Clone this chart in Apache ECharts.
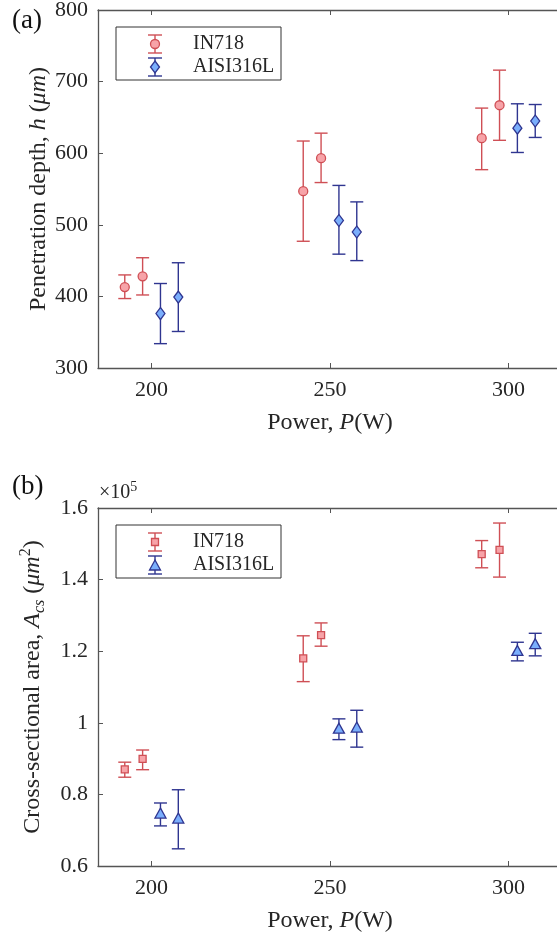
<!DOCTYPE html>
<html>
<head>
<meta charset="utf-8">
<script src="https://cdn.jsdelivr.net/npm/echarts@6/dist/echarts.min.js"></script>
<style>
  html, body { margin: 0; padding: 0; background: #fff; }
  #chart { width: 557px; height: 934px; }
</style>
</head>
<body>
<div id="chart"></div>
<script>
// tick positions
const xTicks = [200, 250, 300]
const depthTicks = [300, 400, 500, 600, 700, 800]
const areaTicks = [0.6, 0.8, 1, 1.2, 1.4, 1.6]

// x positions (W), the two alloys sit either side of each power
const in718X = [192.5, 197.5, 242.5, 247.5, 292.5, 297.5]
const aisiX = [202.5, 207.5, 252.5, 257.5, 302.5, 307.5]

// (a) penetration depth, um
const in718Depth = [413, 428, 547, 593, 621, 667]
const in718DepthLow = [397, 402, 477, 559, 577, 618]
const in718DepthHigh = [430, 454, 617, 628, 663, 716]
const aisiDepth = [376, 399, 506, 490, 635, 645]
const aisiDepthLow = [334, 351, 459, 450, 601, 622]
const aisiDepthHigh = [418, 447, 555, 532, 669, 668]

// (b) cross-sectional area, x1e5 um^2
const in718Area = [0.870, 0.899, 1.180, 1.245, 1.471, 1.483]
const in718AreaLow = [0.848, 0.869, 1.115, 1.214, 1.433, 1.407]
const in718AreaHigh = [0.890, 0.924, 1.243, 1.279, 1.509, 1.558]
const aisiArea = [0.748, 0.734, 0.985, 0.988, 1.202, 1.221]
const aisiAreaLow = [0.712, 0.648, 0.953, 0.932, 1.173, 1.187]
const aisiAreaHigh = [0.776, 0.813, 1.011, 1.035, 1.225, 1.250]

const FONT = "'Liberation Serif', 'Times New Roman', serif"
const TEXT = '#262626'
const AXIS = '#555555'
const RED_LINE = '#cf4f55'
const RED_FILL = '#f7a3a8'
const BLUE_LINE = '#2f3590'
const BLUE_FILL = '#7aaefc'

var chart = echarts.init(document.getElementById('chart'))

const pairs = (xs, ys) => xs.map((x, i) => [x, ys[i]])
const bars = (xs, lo, hi) => xs.map((x, i) => [x, lo[i], hi[i]])

const tickLabel = (v) => String(parseFloat(Number(v).toFixed(2)))

const titleRich = {
  i: { fontStyle: 'italic', fontFamily: FONT, fontSize: 24, color: TEXT, lineHeight: 30 },
  sub: { fontStyle: 'italic', fontFamily: FONT, fontSize: 16, color: TEXT, lineHeight: 16, verticalAlign: 'bottom' },
  sup: { fontFamily: FONT, fontSize: 16, color: TEXT, lineHeight: 16, verticalAlign: 'top' }
}
const titleStyle = { fontFamily: FONT, fontSize: 24, color: TEXT, lineHeight: 30, rich: titleRich }

function xAxisPair(gi) {
  return [
    {
      type: 'value', gridIndex: gi, min: 185, max: 315, position: 'bottom',
      axisLine: { show: true, onZero: false, lineStyle: { color: AXIS, width: 1.3 } },
      axisTick: { show: true, inside: true, length: 5, customValues: xTicks, lineStyle: { color: AXIS } },
      axisLabel: { customValues: xTicks, color: TEXT, fontFamily: FONT, fontSize: 22, margin: 11 },
      splitLine: { show: false },
      name: 'Power, {i|P}(W)', nameLocation: 'middle', nameGap: 40, nameTextStyle: titleStyle
    },
    {
      type: 'value', gridIndex: gi, min: 185, max: 315, position: 'top',
      axisLine: { show: true, onZero: false, lineStyle: { color: AXIS, width: 1.3 } },
      axisTick: { show: true, inside: true, length: 5, customValues: xTicks, lineStyle: { color: AXIS } },
      axisLabel: { show: false },
      splitLine: { show: false }
    }
  ]
}

function yAxisPair(gi, min, max, ticks, name, gap) {
  return [
    {
      type: 'value', gridIndex: gi, min: min, max: max, position: 'left',
      axisLine: { show: true, onZero: false, lineStyle: { color: AXIS, width: 1.3 } },
      axisTick: { show: true, inside: true, length: 5, customValues: ticks, lineStyle: { color: AXIS } },
      axisLabel: { customValues: ticks, formatter: tickLabel, color: TEXT, fontFamily: FONT, fontSize: 22, margin: 10 },
      splitLine: { show: false },
      name: name, nameLocation: 'middle', nameRotate: 90, nameGap: gap, nameMoveOverlap: false,
      nameTextStyle: titleStyle
    },
    {
      type: 'value', gridIndex: gi, min: min, max: max, position: 'right',
      axisLine: { show: true, onZero: false, lineStyle: { color: AXIS, width: 1.3 } },
      axisTick: { show: true, inside: true, length: 5, customValues: ticks, lineStyle: { color: AXIS } },
      axisLabel: { show: false },
      splitLine: { show: false }
    }
  ]
}

function errRender(color) {
  return function (params, api) {
    const lo = api.coord([api.value(0), api.value(1)])
    const hi = api.coord([api.value(0), api.value(2)])
    const w = 6.5
    const style = { stroke: color, lineWidth: 1.4 }
    return {
      type: 'group',
      children: [
        { type: 'line', shape: { x1: lo[0], y1: lo[1], x2: hi[0], y2: hi[1] }, style: style },
        { type: 'line', shape: { x1: lo[0] - w, y1: lo[1], x2: lo[0] + w, y2: lo[1] }, style: style },
        { type: 'line', shape: { x1: hi[0] - w, y1: hi[1], x2: hi[0] + w, y2: hi[1] }, style: style }
      ]
    }
  }
}

function errSeries(ai, xs, lo, hi, color) {
  return {
    type: 'custom', xAxisIndex: ai, yAxisIndex: ai, z: 2, silent: true,
    renderItem: errRender(color),
    encode: { x: 0, y: [1, 2] },
    data: bars(xs, lo, hi)
  }
}

function dotSeries(ai, name, xs, ys, symbol, size, line, fill) {
  return {
    type: 'scatter', name: name, xAxisIndex: ai, yAxisIndex: ai, z: 3,
    symbol: symbol, symbolSize: size,
    itemStyle: { color: fill, borderColor: line, borderWidth: 1.3, opacity: 1 },
    data: pairs(xs, ys)
  }
}

// legend drawn as graphic (error bar + marker glyph)
function legendBox(top, redSymbol, blueSymbol) {
  const gx = 155
  const y1 = top + 17, y2 = top + 40
  const cap = (y) => [
    { type: 'line', shape: { x1: gx, y1: y - 9, x2: gx, y2: y + 9 } },
    { type: 'line', shape: { x1: gx - 7, y1: y - 9, x2: gx + 7, y2: y - 9 } },
    { type: 'line', shape: { x1: gx - 7, y1: y + 9, x2: gx + 7, y2: y + 9 } }
  ]
  const lines = (y, color) => cap(y).map(l => Object.assign(l, { style: { stroke: color, lineWidth: 1.4 } }))
  return [
    { type: 'rect', shape: { x: 116, y: top, width: 165, height: 53 }, style: { fill: '#fff', stroke: '#333', lineWidth: 1 } },
    ...lines(y1, RED_LINE),
    ...lines(y2, BLUE_LINE),
    Object.assign(redSymbol(gx, y1), { style: { fill: RED_FILL, stroke: RED_LINE, lineWidth: 1.3 } }),
    Object.assign(blueSymbol(gx, y2), { style: { fill: BLUE_FILL, stroke: BLUE_LINE, lineWidth: 1.3 } }),
    { type: 'text', style: { text: 'IN718', x: 193, y: y1, verticalAlign: 'middle', fontFamily: FONT, fontSize: 20, fill: TEXT } },
    { type: 'text', style: { text: 'AISI316L', x: 193, y: y2, verticalAlign: 'middle', fontFamily: FONT, fontSize: 20, fill: TEXT } }
  ]
}
const circleGlyph = (x, y) => ({ type: 'circle', shape: { cx: x, cy: y, r: 4.5 } })
const diamondGlyph = (x, y) => ({ type: 'polygon', shape: { points: [[x, y - 6], [x + 4.5, y], [x, y + 6], [x - 4.5, y]] } })
const squareGlyph = (x, y) => ({ type: 'rect', shape: { x: x - 3.5, y: y - 3.5, width: 7, height: 7 } })
const triangleGlyph = (x, y) => ({ type: 'polygon', shape: { points: [[x, y - 5], [x + 5.5, y + 5], [x - 5.5, y + 5]] } })

var option = {
  animation: false,
  backgroundColor: '#fff',
  grid: [
    { left: 98, top: 10, width: 464, height: 358, outerBoundsMode: 'none', containLabel: false },
    { left: 98, top: 508, width: 464, height: 358, outerBoundsMode: 'none', containLabel: false }
  ],
  xAxis: [...xAxisPair(0), ...xAxisPair(1)],
  yAxis: [
    ...yAxisPair(0, 300, 800, depthTicks, 'Penetration depth, {i|h} ({i|μm})', 44),
    ...yAxisPair(1, 0.6, 1.6, areaTicks, 'Cross-sectional area, {i|A}{sub|cs} ({i|μm}{sup|2})', 50)
  ],
  series: [
    errSeries(0, in718X, in718DepthLow, in718DepthHigh, RED_LINE),
    errSeries(0, aisiX, aisiDepthLow, aisiDepthHigh, BLUE_LINE),
    dotSeries(0, 'IN718', in718X, in718Depth, 'circle', 9, RED_LINE, RED_FILL),
    dotSeries(0, 'AISI316L', aisiX, aisiDepth, 'diamond', [9, 12], BLUE_LINE, BLUE_FILL),
    errSeries(2, in718X, in718AreaLow, in718AreaHigh, RED_LINE),
    errSeries(2, aisiX, aisiAreaLow, aisiAreaHigh, BLUE_LINE),
    dotSeries(2, 'IN718', in718X, in718Area, 'rect', 7, RED_LINE, RED_FILL),
    dotSeries(2, 'AISI316L', aisiX, aisiArea, 'triangle', [11, 10], BLUE_LINE, BLUE_FILL)
  ],
  graphic: [
    { type: 'text', style: { text: '(a)', x: 12, y: 21, verticalAlign: 'middle', fontFamily: FONT, fontSize: 27, fill: '#111' } },
    { type: 'text', style: { text: '(b)', x: 12, y: 487, verticalAlign: 'middle', fontFamily: FONT, fontSize: 27, fill: '#111' } },
    {
      type: 'text',
      style: {
        text: '×10{sup|5}', x: 99, y: 506, verticalAlign: 'bottom',
        fontFamily: FONT, fontSize: 20, fill: TEXT, lineHeight: 26,
        rich: { sup: { fontFamily: FONT, fontSize: 14, fill: TEXT, lineHeight: 14, verticalAlign: 'top' } }
      }
    },
    ...legendBox(27, circleGlyph, diamondGlyph),
    ...legendBox(525, squareGlyph, triangleGlyph)
  ]
}

chart.setOption(option)
</script>
</body>
</html>
